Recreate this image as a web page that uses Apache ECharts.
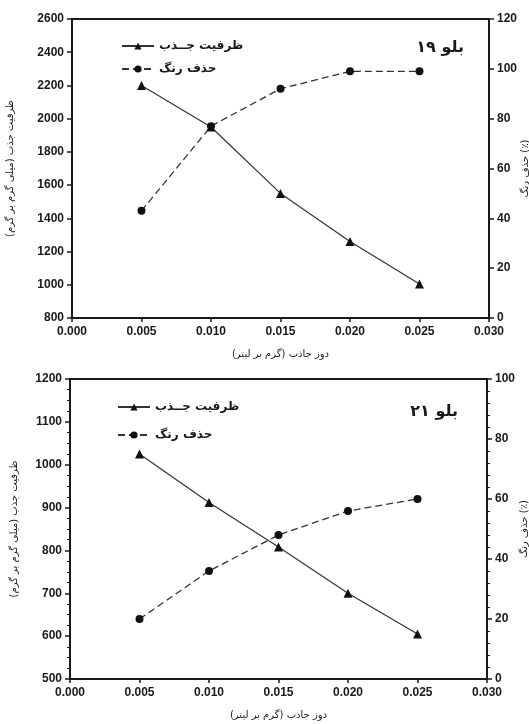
<!DOCTYPE html>
<html>
<head>
<meta charset="utf-8">
<style>
  html, body { margin: 0; padding: 0; background: #fff; }
  #chart { width: 529px; height: 724px; }
</style>
<script src="https://cdn.jsdelivr.net/npm/echarts@6/dist/echarts.min.js"></script>
</head>
<body>
<div id="chart"></div>
<script>
  // dose of adsorbent (g/L)
  const doses = [0.005, 0.010, 0.015, 0.020, 0.025];

  // Blue 19
  const capacity19 = [2200, 1950, 1550, 1260, 1005];
  const removal19 = [43, 77, 92, 99, 99];

  // Blue 21
  const capacity21 = [1025, 912, 808, 700, 605];
  const removal21 = [20, 36, 48, 56, 60];

  const capacityName = 'ظرفیت جــذب';
  const removalName = 'حذف رنگ';
  const xTitle = 'دوز جاذب (گرم بر لیتر)';
  const yLeftTitle = 'ظرفیت جذب (میلی گرم بر گرم)';
  const yRightTitle = 'حذف رنگ (٪)';

  const pairs = (vals) => doses.map((d, i) => [d, vals[i]]);

  const ink = '#1a1a1a';
  const faFont = 'DejaVu Sans';
  const numFont = 'Liberation Sans';

  const xAxisBase = (gridIndex) => ({
    type: 'value',
    gridIndex,
    min: 0,
    max: 0.03,
    interval: 0.005,
    name: xTitle,
    nameLocation: 'middle',
    nameGap: 31,
    nameTextStyle: { fontFamily: faFont, fontSize: 10, color: ink },
    axisLine: { lineStyle: { color: ink, width: 2 } },
    axisTick: { inside: false, length: 4, lineStyle: { color: ink, width: 1.5 } },
    axisLabel: {
      color: ink, fontFamily: numFont, fontWeight: 'bold', fontSize: 12, margin: 8,
      formatter: (v) => v.toFixed(3)
    },
    splitLine: { show: false }
  });

  const yAxisBase = (gridIndex, pos, min, max, interval, name, gap, minor) => ({
    type: 'value',
    gridIndex,
    position: pos,
    min,
    max,
    interval,
    name,
    nameLocation: 'middle',
    nameRotate: 90,
    nameGap: gap,
    nameMoveOverlap: false,
    nameTextStyle: { fontFamily: faFont, fontSize: 10, color: ink },
    axisLine: { show: true, lineStyle: { color: ink, width: 2 } },
    axisTick: { show: true, length: 5, lineStyle: { color: ink, width: 1.5 } },
    minorTick: { show: minor > 0, splitNumber: minor || 5, length: 3, lineStyle: { color: ink, width: 1 } },
    axisLabel: {
      color: ink, fontFamily: numFont, fontWeight: 'bold', fontSize: 12, margin: 8,
      formatter: (v) => String(v)
    },
    splitLine: { show: false }
  });

  const capacitySeries = (xi, yi, data) => ({
    name: capacityName,
    type: 'line',
    xAxisIndex: xi,
    yAxisIndex: yi,
    data: pairs(data),
    symbol: 'triangle',
    symbolSize: 9,
    lineStyle: { color: '#333', width: 1.2, type: 'solid' },
    itemStyle: { color: '#111' },
    animation: false
  });

  const removalSeries = (xi, yi, data) => ({
    name: removalName,
    type: 'line',
    xAxisIndex: xi,
    yAxisIndex: yi,
    data: pairs(data),
    symbol: 'circle',
    symbolSize: 8,
    lineStyle: { color: '#333', width: 1.3, type: [7, 4] },
    itemStyle: { color: '#111' },
    animation: false
  });

  const legendBase = (top, left, gap) => ({
    orient: 'vertical',
    top,
    left,
    itemWidth: 32,
    itemHeight: 9,
    itemGap: gap,
    textStyle: { fontFamily: faFont, fontWeight: 'bold', fontSize: 12, color: ink },
    selectedMode: false
  });

  const chart = echarts.init(document.getElementById('chart'), null, { renderer: 'canvas' });

  const option = {
    backgroundColor: '#fff',
    animation: false,
    title: [
      {
        text: 'بلو ۱۹', right: 60, top: 35,
        textStyle: { fontFamily: faFont, fontWeight: 'bold', fontSize: 16, color: ink }
      },
      {
        text: 'بلو ۲۱', right: 66, top: 399,
        textStyle: { fontFamily: faFont, fontWeight: 'bold', fontSize: 16, color: ink }
      }
    ],
    legend: [
      Object.assign(legendBase(35, 116, 11), { data: [capacityName, removalName] }),
      Object.assign(legendBase(396, 112, 16), { data: [capacityName, removalName] })
    ],
    grid: [
      {
        left: 72, right: 40, top: 19, height: 299, outerBoundsMode: 'none',
        show: true, borderColor: ink, borderWidth: 2, backgroundColor: 'transparent'
      },
      {
        left: 70, right: 42, top: 379, height: 300, outerBoundsMode: 'none',
        show: true, borderColor: ink, borderWidth: 2, backgroundColor: 'transparent'
      }
    ],
    xAxis: [xAxisBase(0), xAxisBase(1)],
    yAxis: [
      yAxisBase(0, 'left', 800, 2600, 200, yLeftTitle, 57, 0),
      yAxisBase(0, 'right', 0, 120, 20, yRightTitle, 31, 0),
      yAxisBase(1, 'left', 500, 1200, 100, yLeftTitle, 51, 4),
      yAxisBase(1, 'right', 0, 100, 20, yRightTitle, 32, 5)
    ],
    series: [
      capacitySeries(0, 0, capacity19),
      removalSeries(0, 1, removal19),
      capacitySeries(1, 2, capacity21),
      removalSeries(1, 3, removal21)
    ]
  };

  chart.setOption(option);
  window.addEventListener('resize', () => chart.resize());
</script>
</body>
</html>
